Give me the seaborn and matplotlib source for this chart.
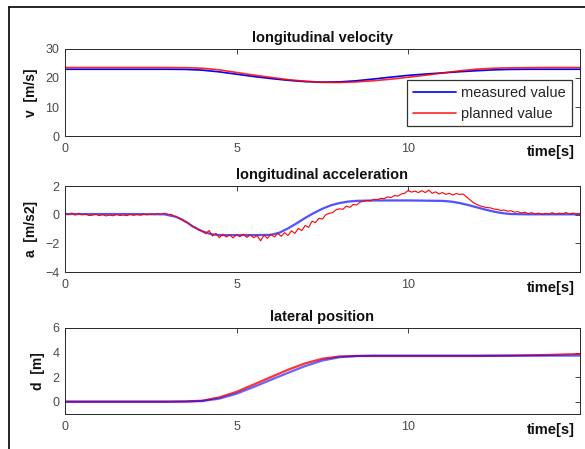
import seaborn as sns
import matplotlib
matplotlib.use('Agg')
import matplotlib.pyplot as plt
from matplotlib.lines import Line2D

# --- datos ---
t_vel = [0, 0.5, 1, 1.5, 2, 2.5, 3, 3.5, 4, 4.5, 5, 5.5, 6, 6.5, 7, 7.5, 8, 8.5, 9, 9.5,
         10, 10.5, 11, 11.5, 12, 12.5, 13, 13.5, 14, 14.5, 15]
v_measured = [23.0, 23.0, 23.0, 23.0, 23.0, 23.0, 23.0, 22.95, 22.7, 22.1, 21.3, 20.5, 19.8, 19.2,
              18.75, 18.55, 18.65, 19.05, 19.65, 20.3, 20.9, 21.35, 21.75, 22.15, 22.5, 22.8,
              22.95, 23.0, 23.0, 23.0, 23.0]
v_planned = [23.6, 23.6, 23.6, 23.6, 23.6, 23.6, 23.6, 23.55, 23.35, 22.8, 21.9, 21.0, 20.2, 19.4,
             18.9, 18.5, 18.45, 18.65, 19.05, 19.6, 20.25, 20.95, 21.7, 22.45, 23.05, 23.35,
             23.5, 23.55, 23.6, 23.6, 23.6]

t_acc_meas = [0, 1, 2, 2.9, 3.25, 3.5, 3.75, 4.0, 4.25, 4.5, 5.0, 5.5, 6.0, 6.25, 6.5, 6.75,
              7.0, 7.25, 7.5, 7.75, 8.0, 8.25, 8.5, 9.0, 10.0, 11.0, 11.25, 11.5, 11.75, 12.0,
              12.25, 12.5, 12.75, 13.0, 13.5, 15.0]
a_measured = [0.05, 0.05, 0.05, 0.03, -0.15, -0.45, -0.85, -1.15, -1.35, -1.42, -1.42, -1.42,
              -1.40, -1.25, -0.95, -0.6, -0.22, 0.12, 0.42, 0.66, 0.82, 0.92, 0.97, 1.0, 1.0,
              0.97, 0.92, 0.82, 0.68, 0.52, 0.36, 0.22, 0.11, 0.05, 0.03, 0.03]

t_acc_plan = [i / 10 for i in range(151)]
a_planned = [
    0.05, 0.02, 0.12, -0.02, 0.10, 0.0, 0.04, -0.05, -0.03, 0.03,
    -0.06, 0.0, -0.08, -0.02, -0.07, 0.01, -0.05, -0.02, -0.06, 0.02,
    -0.04, 0.01, -0.03, 0.04, 0.0, 0.06, 0.02, 0.08, 0.03, 0.10,
    0.04, 0.02, -0.10, -0.22, -0.30, -0.50, -0.58, -0.80, -0.88, -1.08,
    -1.12, -1.32, -1.10, -1.48, -1.30, -1.60, -1.35, -1.55, -1.40, -1.62,
    -1.38, -1.52, -1.35, -1.58, -1.40, -1.60, -1.45, -1.82, -1.42, -1.65,
    -1.35, -1.55, -1.30, -1.50, -1.25, -1.45, -1.12, -1.30, -0.95, -1.10,
    -0.75, -0.88, -0.45, -0.55, -0.25, -0.30, 0.0, 0.10, 0.15, 0.35,
    0.42, 0.38, 0.60, 0.52, 0.72, 0.68, 0.88, 0.95, 1.00, 0.97,
    1.08, 1.05, 1.15, 1.12, 1.25, 1.20, 1.35, 1.30, 1.45, 1.50,
    1.70, 1.58, 1.65, 1.55, 1.68, 1.55, 1.72, 1.50, 1.60, 1.45,
    1.55, 1.42, 1.50, 1.38, 1.48, 1.42, 1.45, 1.25, 1.05, 0.85,
    0.72, 0.62, 0.55, 0.50, 0.48, 0.40, 0.38, 0.30, 0.33, 0.25,
    0.28, 0.18, 0.22, 0.12, 0.18, 0.08, 0.15, 0.05, 0.12, 0.02,
    0.10, 0.05, 0.15, 0.03, 0.12, 0.06, 0.16, 0.04, 0.12, 0.07,
    0.10]

t_pos = [0, 1, 2, 3, 3.5, 4, 4.5, 5, 5.5, 6, 6.5, 7, 7.5, 8, 8.5, 9, 10, 11, 12, 13, 14, 15]
d_measured = [0.0, 0.0, 0.0, 0.0, 0.01, 0.05, 0.25, 0.65, 1.2, 1.78, 2.35, 2.9, 3.35, 3.62,
              3.72, 3.75, 3.75, 3.75, 3.75, 3.75, 3.75, 3.75]
d_planned = [0.0, 0.0, 0.0, 0.0, 0.02, 0.08, 0.35, 0.8, 1.4, 2.0, 2.6, 3.12, 3.5, 3.68,
             3.72, 3.72, 3.72, 3.72, 3.72, 3.75, 3.8, 3.88]

sns.set_style('white')
plt.rcParams['font.family'] = ['Liberation Sans', 'DejaVu Sans']

gris = '#262626'
fig = plt.figure(figsize=(5.85, 4.49), dpi=100)
ax1 = fig.add_axes([0.111, 0.697, 0.880, 0.194])
ax2 = fig.add_axes([0.111, 0.394, 0.880, 0.1915])
ax3 = fig.add_axes([0.111, 0.078, 0.880, 0.1915])

sns.lineplot(x=t_vel, y=v_measured, ax=ax1, color='#0000ff', lw=1.2, estimator=None, sort=False,
             label='measured value')
sns.lineplot(x=t_vel, y=v_planned, ax=ax1, color='#ff0000', lw=1.2, estimator=None, sort=False,
             label='planned value', alpha=0.85)

sns.lineplot(x=t_acc_meas, y=a_measured, ax=ax2, color='#3333ff', lw=1.6, estimator=None,
             sort=False, legend=False, alpha=0.85)
sns.lineplot(x=t_acc_plan, y=a_planned, ax=ax2, color='#ff0000', lw=0.8, estimator=None,
             sort=False, legend=False)

sns.lineplot(x=t_pos, y=d_planned, ax=ax3, color='#ff0000', lw=1.6, estimator=None, sort=False,
             legend=False, alpha=0.8)
sns.lineplot(x=t_pos, y=d_measured, ax=ax3, color='#0000ff', lw=1.6, estimator=None, sort=False,
             legend=False, alpha=0.6)

config = [(ax1, 'longitudinal velocity', 'v  [m/s]', (0, 30), [0, 10, 20, 30]),
          (ax2, 'longitudinal acceleration', 'a  [m/s2]', (-4, 2), [-4, -2, 0, 2]),
          (ax3, 'lateral position', 'd  [m]', (-1, 6), [0, 2, 4, 6])]

for ax, titulo, ylab, ylim, yticks in config:
    ax.set_xlim(0, 15)
    ax.set_ylim(*ylim)
    ax.set_xticks([0, 5, 10])
    ax.set_yticks(yticks)
    ax.tick_params(direction='in', length=3.5, width=0.6, colors=gris, labelcolor='#4a4a4a',
                   labelsize=9, top=True, right=True, pad=4)
    ax.tick_params(axis='x', pad=5)
    for s in ax.spines.values():
        s.set_color(gris)
        s.set_linewidth(0.7)
    ax.set_title(titulo, fontsize=10.5, fontweight='bold', pad=5, color='#111111')
    ax.set_ylabel(ylab, fontsize=10, fontweight='bold', labelpad=5, color='#111111')
    ax.set_xlabel('')
    ax.annotate('time[s]', xy=(1, 0), xycoords='axes fraction', xytext=(-5, -16),
                textcoords='offset pixels', ha='right', va='center', fontsize=10.5,
                fontweight='bold', color='#111111')

leg = ax1.legend(loc='lower right', bbox_to_anchor=(0.985, 0.11), fontsize=10.5,
                 frameon=True, fancybox=False, edgecolor='black', handlelength=2.9,
                 borderpad=0.4, labelspacing=0.45, handletextpad=0.4, borderaxespad=0)
leg.get_frame().set_linewidth(0.9)

# marco de la ventana
fig.add_artist(Line2D([9 / 585, 9 / 585], [0, 1 - 7 / 449], color='black', lw=1.2,
                      transform=fig.transFigure))
fig.add_artist(Line2D([9 / 585, 1], [1 - 7 / 449, 1 - 7 / 449], color='black', lw=1.2,
                      transform=fig.transFigure))

fig.savefig('out.png', dpi=100)
